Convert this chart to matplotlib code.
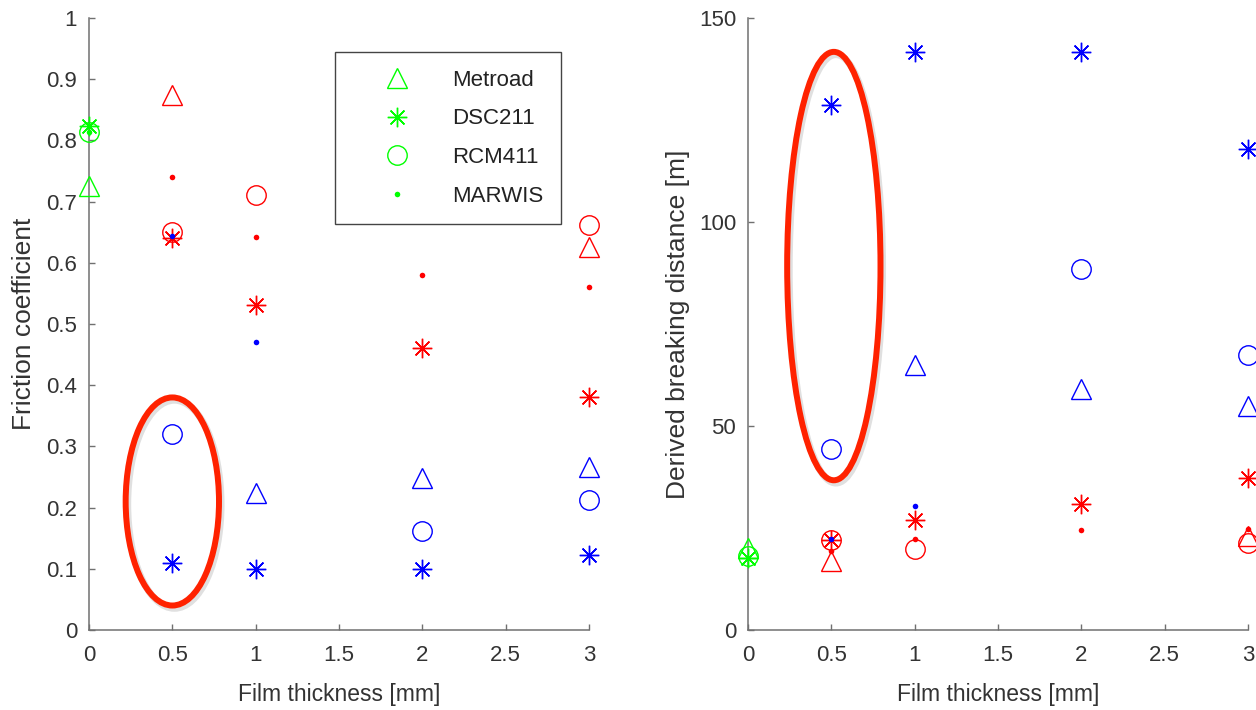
import matplotlib
matplotlib.use("Agg")
import matplotlib.pyplot as plt
from matplotlib.patches import Ellipse
from matplotlib.lines import Line2D
from matplotlib.transforms import offset_copy

plt.rcParams['font.family'] = ['Liberation Sans', 'DejaVu Sans']

# ---------------- data ----------------
sensors = ["Metroad", "DSC211", "RCM411", "MARWIS"]
markers = {"Metroad": "^", "DSC211": (8, 2, 0), "RCM411": "o", "MARWIS": "o"}

# Friction coefficient (left panel)
fric_green_x = [0, 0, 0, 0]
fric_green = {"Metroad": 0.725, "DSC211": 0.823, "RCM411": 0.814, "MARWIS": 0.814}

fric_red_x = {"Metroad": [0.5, 3], "DSC211": [0.5, 1, 2, 3],
              "RCM411": [0.5, 1, 3], "MARWIS": [0.5, 1, 2, 3]}
fric_red = {"Metroad": [0.874, 0.626], "DSC211": [0.64, 0.531, 0.461, 0.381],
            "RCM411": [0.651, 0.711, 0.662], "MARWIS": [0.74, 0.642, 0.58, 0.56]}

fric_blue_x = {"Metroad": [1, 2, 3], "DSC211": [0.5, 1, 2, 3],
               "RCM411": [0.5, 2, 3], "MARWIS": [0.5, 1]}
fric_blue = {"Metroad": [0.224, 0.248, 0.266], "DSC211": [0.11, 0.10, 0.10, 0.123],
             "RCM411": [0.321, 0.162, 0.212], "MARWIS": [0.643, 0.47]}

# Derived breaking distance (right panel)
dist_green = {"Metroad": 20.2, "DSC211": 17.6, "RCM411": 18.1, "MARWIS": 17.6}

dist_red_x = fric_red_x
dist_red = {"Metroad": [17.0, 23.0], "DSC211": [22.0, 27.0, 30.9, 37.3],
            "RCM411": [22.0, 19.8, 21.4], "MARWIS": [19.3, 22.2, 24.5, 24.8]}

dist_blue_x = fric_blue_x
dist_blue = {"Metroad": [65.0, 59.0, 55.0], "DSC211": [128.7, 141.6, 141.6, 118.0],
             "RCM411": [44.3, 88.4, 67.4], "MARWIS": [22.2, 30.4]}

x_ticks = [0, 0.5, 1, 1.5, 2, 2.5, 3]
x_tick_labels = ["0", "0.5", "1", "1.5", "2", "2.5", "3"]
fric_ticks = [0, 0.1, 0.2, 0.3, 0.4, 0.5, 0.6, 0.7, 0.8, 0.9, 1]
fric_tick_labels = ["0", "0.1", "0.2", "0.3", "0.4", "0.5", "0.6", "0.7", "0.8", "0.9", "1"]
dist_ticks = [0, 50, 100, 150]
dist_tick_labels = ["0", "50", "100", "150"]

# annotation ellipses (center x, center y, width, height) in data units
fric_ellipse = (0.5, 0.21, 0.56, 0.34)
dist_ellipse = (0.515, 89.2, 0.56, 105.0)

# ---------------- style ----------------
GREEN = (0, 1, 0)
RED = (1, 0, 0)
BLUE = (0, 0, 1)
TXT = '#333333'
SPINE = '#707070'


def msize(s):
    if s == "MARWIS":
        return 4.0
    if s == "Metroad":
        return 14.5
    return 14


def draw(ax, x, y, s, color):
    if s == "MARWIS":
        ax.plot(x, y, linestyle='none', marker='o', ms=msize(s), mfc=color,
                mec='none', clip_on=False, zorder=4)
    else:
        ax.plot(x, y, linestyle='none', marker=markers[s], ms=msize(s),
                mfc='none', mec=color, mew=1.0, clip_on=False, zorder=3)


def style(ax, yticks, ylabels, ylim):
    ax.set_xlim(0, 3)
    ax.set_ylim(*ylim)
    ax.set_xticks(x_ticks)
    ax.set_xticklabels(x_tick_labels)
    ax.set_yticks(yticks)
    ax.set_yticklabels(ylabels)
    for sp in ['top', 'right']:
        ax.spines[sp].set_visible(False)
    for sp in ['left', 'bottom']:
        ax.spines[sp].set_color(SPINE)
        ax.spines[sp].set_linewidth(1.1)
    ax.tick_params(axis='both', direction='in', length=4.5, width=1.0,
                   color=SPINE, labelcolor=TXT, labelsize=16)
    ax.tick_params(axis='x', pad=11)
    ax.tick_params(axis='y', pad=8.5)


fig = plt.figure(figsize=(12.56, 7.10), dpi=100)
axL = fig.add_axes([89 / 1256, 80 / 710, 500 / 1256, 612 / 710])
axR = fig.add_axes([748 / 1256, 80 / 710, 500 / 1256, 612 / 710])

# left panel
for s in sensors:
    draw(axL, fric_red_x[s], fric_red[s], s, RED)
for s in sensors:
    draw(axL, fric_blue_x[s], fric_blue[s], s, BLUE)
for i, s in enumerate(sensors):
    draw(axL, [fric_green_x[i]], [fric_green[s]], s, GREEN)

# right panel
for s in sensors:
    draw(axR, dist_red_x[s], dist_red[s], s, RED)
for s in sensors:
    draw(axR, dist_blue_x[s], dist_blue[s], s, BLUE)
for i, s in enumerate(sensors):
    draw(axR, [fric_green_x[i]], [dist_green[s]], s, GREEN)

style(axL, fric_ticks, fric_tick_labels, (0, 1))
style(axR, dist_ticks, dist_tick_labels, (0, 150))

axL.set_xlabel("Film thickness [mm]", fontsize=16.5, color=TXT, va='top')
axR.set_xlabel("Film thickness [mm]", fontsize=16.5, color=TXT, va='top')
axL.xaxis.set_label_coords(0.5, -0.086)
axR.xaxis.set_label_coords(0.5, -0.086)
axL.set_ylabel("Friction coefficient", fontsize=19, color=TXT, va='center')
axR.set_ylabel("Derived breaking distance [m]", fontsize=19, color=TXT, va='center')
axL.yaxis.set_label_coords(-0.13, 0.5)
axR.yaxis.set_label_coords(-0.14, 0.5)

# ellipses with soft shadow
for ax, (cx, cy, w, h) in [(axL, fric_ellipse), (axR, dist_ellipse)]:
    sh = Ellipse((cx, cy), w, h, fill=False, lw=5, ec='#000000', alpha=0.12,
                 transform=offset_copy(ax.transData, fig=fig, x=1.5, y=-2, units='points'),
                 clip_on=False, zorder=5)
    ax.add_patch(sh)
    e = Ellipse((cx, cy), w, h, fill=False, lw=4.3, ec='#ff2200',
                clip_on=False, zorder=6)
    ax.add_patch(e)

# legend
handles = []
for s in sensors:
    if s == "MARWIS":
        h = Line2D([], [], linestyle='none', marker='o', ms=4.0, mfc=GREEN, mec='none')
    else:
        h = Line2D([], [], linestyle='none', marker=markers[s], ms=msize(s),
                   mfc='none', mec=GREEN, mew=1.0)
    handles.append(h)
leg = axL.legend(handles, sensors, loc='upper left',
                 bbox_to_anchor=(0.492, 0.668, 0.452, 0.276), mode='expand',
                 fontsize=16, frameon=True, fancybox=False, edgecolor='#444444',
                 handlelength=4.05, handletextpad=0.45, labelspacing=0.8,
                 borderpad=0.78, borderaxespad=0.0, framealpha=1)
leg.get_frame().set_linewidth(1.0)
for t in leg.get_texts():
    t.set_color('#222222')

fig.savefig("out.png", dpi=100)
